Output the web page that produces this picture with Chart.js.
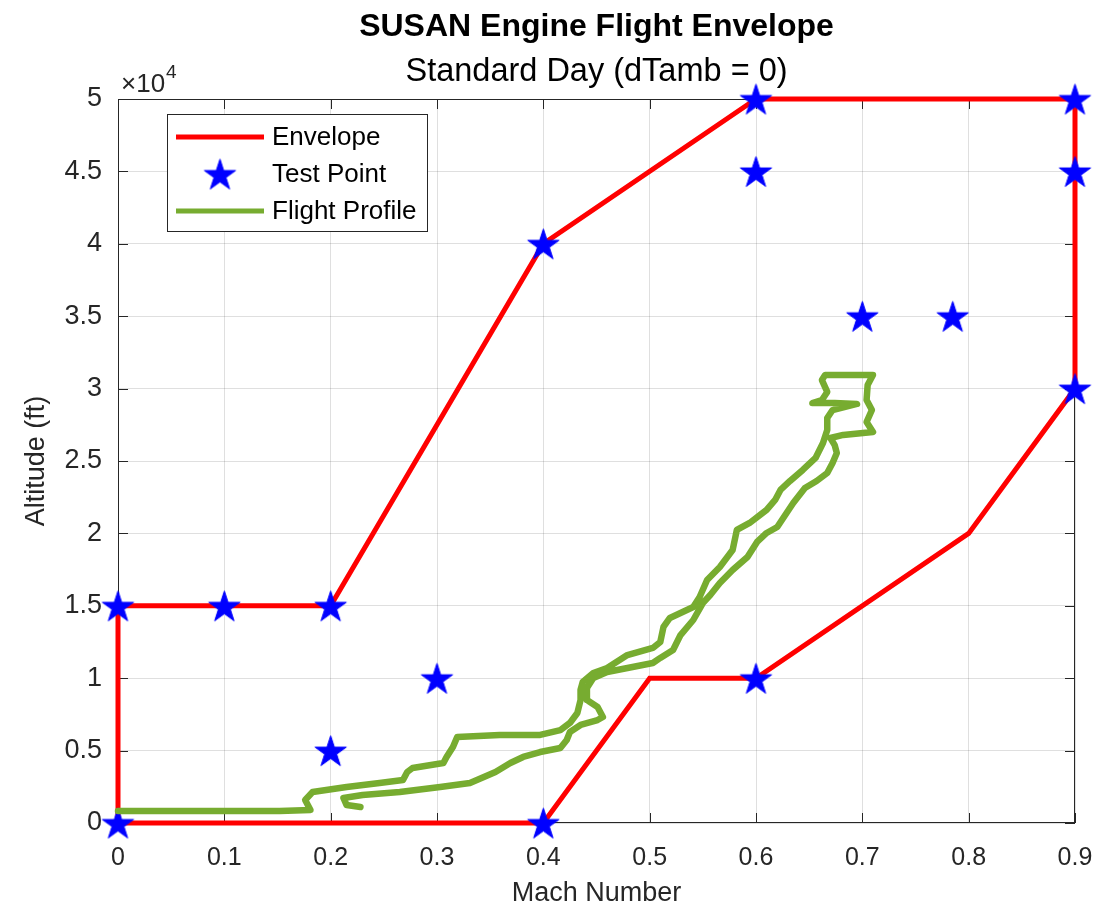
<!DOCTYPE html>
<html><head><meta charset="utf-8">
<script src="https://cdn.jsdelivr.net/npm/chart.js@4/dist/chart.umd.min.js"></script>
<style>html,body{margin:0;padding:0;background:#fff;}canvas{display:block;}</style>
</head><body>
<canvas id="c" width="1099" height="910"></canvas>
<script>
// ---------- data ----------
const envelopeMach = [0, 0, 0.2, 0.4, 0.6, 0.9, 0.9, 0.8, 0.6, 0.5, 0.4, 0];
const envelopeAlt  = [0, 15000, 15000, 40000, 50000, 50000, 30000, 20000, 10000, 10000, 0, 0];

const testMach = [0, 0, 0.1, 0.2, 0.2, 0.3, 0.4, 0.4, 0.6, 0.6, 0.6, 0.7, 0.785, 0.9, 0.9, 0.9];
const testAlt  = [0, 15000, 15000, 15000, 5000, 10000, 0, 40000, 50000, 45000, 10000, 35000, 35000, 50000, 45000, 30000];

const profileMach = [
  0, 0.077, 0.152, 0.181,
  0.176, 0.183, 0.215, 0.246, 0.268, 0.272, 0.277, 0.306, 0.309, 0.315,
  0.319, 0.359, 0.397, 0.416, 0.425, 0.432, 0.435, 0.435, 0.437, 0.447,
  0.460, 0.479, 0.503, 0.510, 0.513, 0.519, 0.541, 0.547, 0.554, 0.566,
  0.578, 0.582, 0.594, 0.610, 0.618, 0.623, 0.632, 0.644, 0.656, 0.663,
  0.667, 0.667, 0.672, 0.695, 0.674, 0.653, 0.662, 0.667, 0.662, 0.665,
  0.688, 0.710, 0.705, 0.704, 0.709, 0.704, 0.710, 0.682, 0.670,
  0.674, 0.676, 0.672, 0.667, 0.657, 0.646, 0.635, 0.620, 0.610, 0.601,
  0.592, 0.578, 0.566, 0.557, 0.550, 0.541, 0.529, 0.522, 0.510, 0.503,
  0.460, 0.447, 0.441, 0.441, 0.451, 0.456, 0.451, 0.435, 0.425, 0.422,
  0.416, 0.397, 0.381, 0.369, 0.355, 0.331, 0.303, 0.265, 0.230, 0.212,
  0.215, 0.228
];
const profileAlt = [
  830, 830, 830, 900,
  1590, 2140, 2490, 2760, 2970, 3520, 3800, 4140, 4560, 5250,
  5940, 6080, 6080, 6420, 6910, 7600, 8490, 9190, 9740, 10360,
  10700, 11600, 12090, 12500, 13540, 14160, 14920, 15610, 16780, 17680,
  18850, 20240, 20720, 21620, 22310, 23000, 23620, 24380, 25210, 26240,
  27140, 27970, 28520, 28940, 29000, 29000, 29210, 29770, 30590, 30940,
  30940, 30940, 30250, 29210, 28520, 27690, 27000, 26800, 26590,
  26100, 25550, 24860, 24170, 23620, 23140, 22100, 20440, 20030, 19410,
  18370, 17470, 16570, 15750, 15190, 14020, 12980, 11950, 11400, 11050,
  10430, 10010, 9320, 8490, 8010, 7320, 7110, 6770, 6280, 5730,
  5180, 4900, 4560, 4140, 3520, 2760, 2490, 2140, 1930, 1730,
  1240, 1100
];

const xTickLabels = ['0', '0.1', '0.2', '0.3', '0.4', '0.5', '0.6', '0.7', '0.8', '0.9'];
const yTickLabels = ['0', '0.5', '1', '1.5', '2', '2.5', '3', '3.5', '4', '4.5', '5'];

const titleText = 'SUSAN Engine Flight Envelope';
const subtitleText = 'Standard Day (dTamb = 0)';
const xLabel = 'Mach Number';
const yLabel = 'Altitude (ft)';
const legendLabels = ['Envelope', 'Test Point', 'Flight Profile'];

// ---------- styles ----------
const FONT = "'Liberation Sans', Arial, Helvetica, sans-serif";
const RED = '#ff0000', BLUE = '#0000ff', GREEN = '#77ac30', AX = '#262626';

function makeStar(r) {
  const c = document.createElement('canvas');
  const s = Math.ceil(r * 2 + 4);
  c.width = s; c.height = s;
  const g = c.getContext('2d');
  const cx = s / 2, cy = s / 2 + r * 0.1;
  const ri = r * 0.382;
  g.beginPath();
  for (let i = 0; i < 10; i++) {
    const ang = -Math.PI / 2 + i * Math.PI / 5;
    const rr = i % 2 === 0 ? r : ri;
    const px = cx + rr * Math.cos(ang), py = cy + rr * Math.sin(ang);
    if (i === 0) g.moveTo(px, py); else g.lineTo(px, py);
  }
  g.closePath();
  g.fillStyle = BLUE; g.fill();
  g.strokeStyle = BLUE; g.lineWidth = 1; g.stroke();
  return c;
}
const starImg = makeStar(16.5);

const zip = (xs, ys) => xs.map((v, i) => ({x: v, y: ys[i]}));

const decorPlugin = {
  id: 'decor',
  beforeDatasetsDraw(chart) {
    const {ctx, chartArea: a, scales: {x, y}} = chart;
    ctx.save();
    ctx.strokeStyle = AX; ctx.lineWidth = 1;
    ctx.strokeRect(a.left + 0.5, a.top + 0.5, a.right - a.left - 1, a.bottom - a.top - 1);
    ctx.beginPath();
    const tl = 10;
    x.ticks.forEach(t => {
      const p = Math.round(x.getPixelForValue(t.value)) + 0.5;
      ctx.moveTo(p, a.bottom); ctx.lineTo(p, a.bottom - tl);
      ctx.moveTo(p, a.top); ctx.lineTo(p, a.top + tl);
    });
    y.ticks.forEach(t => {
      const p = Math.round(y.getPixelForValue(t.value)) + 0.5;
      ctx.moveTo(a.left, p); ctx.lineTo(a.left + tl, p);
      ctx.moveTo(a.right, p); ctx.lineTo(a.right - tl, p);
    });
    ctx.stroke();
    ctx.restore();
  },
  afterDraw(chart) {
    const {ctx, chartArea: a} = chart;
    const cx = (a.left + a.right) / 2;
    ctx.save();
    // titles
    ctx.fillStyle = '#000';
    ctx.textAlign = 'center'; ctx.textBaseline = 'middle';
    ctx.font = 'bold 32px ' + FONT;
    ctx.fillText(titleText, cx, 27);
    ctx.font = '32.5px ' + FONT;
    ctx.fillText(subtitleText, cx, 72);
    // axis labels
    ctx.fillStyle = AX;
    ctx.font = '27px ' + FONT;
    ctx.fillText(xLabel, cx, 894);
    ctx.save();
    ctx.translate(37, (a.top + a.bottom) / 2);
    ctx.rotate(-Math.PI / 2);
    ctx.fillText(yLabel, 0, 0);
    ctx.restore();
    // exponent
    ctx.textAlign = 'left'; ctx.textBaseline = 'alphabetic';
    ctx.font = '26px ' + FONT;
    ctx.fillText('\u00d710', a.left + 3, 92);
    const w = ctx.measureText('\u00d710').width;
    ctx.font = '19px ' + FONT;
    ctx.fillText('4', a.left + 3 + w + 1, 78);
    // legend
    const lx = 167, ly = 114, lw = 260, lh = 117;
    ctx.fillStyle = '#fff';
    ctx.fillRect(lx, ly, lw, lh);
    ctx.strokeStyle = AX; ctx.lineWidth = 1;
    ctx.strokeRect(lx + 0.5, ly + 0.5, lw, lh);
    const rows = [137, 174, 211];
    ctx.lineCap = 'butt';
    ctx.strokeStyle = RED; ctx.lineWidth = 5;
    ctx.beginPath(); ctx.moveTo(176, rows[0]); ctx.lineTo(264, rows[0]); ctx.stroke();
    ctx.drawImage(starImg, 220 - starImg.width / 2, rows[1] - starImg.height / 2);
    ctx.strokeStyle = GREEN; ctx.lineWidth = 5;
    ctx.beginPath(); ctx.moveTo(176, rows[2]); ctx.lineTo(264, rows[2]); ctx.stroke();
    ctx.fillStyle = '#000';
    ctx.font = '26px ' + FONT;
    ctx.textBaseline = 'middle';
    legendLabels.forEach((t, i) => ctx.fillText(t, 272, rows[i] + 1));
    ctx.restore();
  }
};

new Chart(document.getElementById('c'), {
  type: 'scatter',
  data: {
    datasets: [
      {
        label: legendLabels[0], data: zip(envelopeMach, envelopeAlt), showLine: true,
        borderColor: RED, borderWidth: 5, pointRadius: 0, fill: false, tension: 0,
        borderJoinStyle: 'miter', clip: false, order: 3
      },
      {
        label: legendLabels[1], data: zip(testMach, testAlt), showLine: false,
        pointStyle: starImg, pointRadius: 16, backgroundColor: BLUE, borderColor: BLUE,
        clip: false, order: 2
      },
      {
        label: legendLabels[2], data: zip(profileMach, profileAlt), showLine: true,
        borderColor: GREEN, borderWidth: 6.5, pointRadius: 0, fill: false, tension: 0,
        borderJoinStyle: 'round', borderCapStyle: 'round', clip: false, order: 1
      }
    ]
  },
  options: {
    responsive: false,
    animation: false,
    devicePixelRatio: 1,
    layout: {padding: {left: 0, right: 24, top: 99, bottom: 0}},
    plugins: {legend: {display: false}, tooltip: {enabled: false}, title: {display: false}},
    scales: {
      x: {
        type: 'linear', min: 0, max: 0.9,
        ticks: {stepSize: 0.1, color: AX, font: {family: FONT, size: 25}, padding: 20,
                callback: (v, i) => xTickLabels[i]},
        grid: {color: 'rgba(38,38,38,0.15)', lineWidth: 1, drawTicks: false},
        border: {display: false},
        afterFit: s => { s.height = 87; s.paddingLeft = 0; s.paddingRight = 0; }
      },
      y: {
        type: 'linear', min: 0, max: 50000,
        ticks: {stepSize: 5000, color: AX, font: {family: FONT, size: 27}, padding: 16,
                callback: (v, i) => yTickLabels[i]},
        grid: {color: 'rgba(38,38,38,0.15)', lineWidth: 1, drawTicks: false},
        border: {display: false},
        afterFit: s => { s.width = 118; s.paddingTop = 0; s.paddingBottom = 0; }
      }
    }
  },
  plugins: [decorPlugin]
});
</script>
</body></html>
